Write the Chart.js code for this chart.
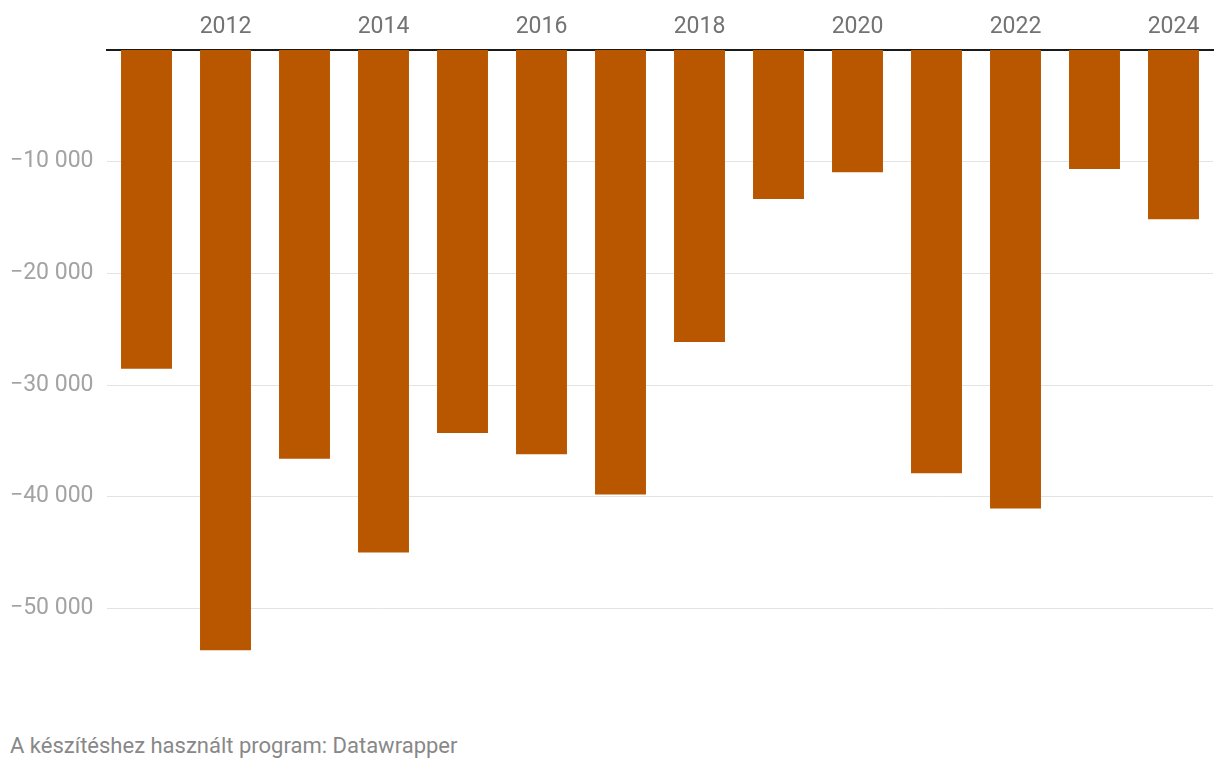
<!DOCTYPE html>
<html>
<head>
<meta charset="utf-8">
<script src="https://cdn.jsdelivr.net/npm/chart.js@4"></script>
<style>
  html, body { margin: 0; padding: 0; background: #fff; }
  #wrap { position: relative; width: 1220px; height: 770px; }
  #footer {
    position: absolute; left: 10px; top: 733px;
    font-family: Roboto, sans-serif; font-size: 22px; color: #888;
  }
</style>
</head>
<body>
<div id="wrap">
  <canvas id="myChart" width="1220" height="678"></canvas>
  <div id="footer">A készítéshez használt program: Datawrapper</div>
</div>
<script>
// years along the top axis
var years = ['2011', '2012', '2013', '2014', '2015', '2016', '2017',
             '2018', '2019', '2020', '2021', '2022', '2023', '2024'];
// values
var values = [-28550, -53750, -36600, -45000, -34300, -36200, -39800,
              -26150, -13350, -10950, -37900, -41050, -10650, -15150];
var yTicks = [-10000, -20000, -30000, -40000, -50000];

function fmt(v) {
    var s = Math.abs(v).toString().replace(/\B(?=(\d{3})+(?!\d))/g, ' ');
    return (v < 0 ? '\u2212' : '') + s;
}

var ctx = document.getElementById('myChart');
var myChart = new Chart(ctx, {
    type: 'bar',
    data: {
        labels: years,
        datasets: [{
            data: values,
            backgroundColor: '#b95700',
            borderWidth: 0,
            barPercentage: 0.645,
            categoryPercentage: 1.0
        }]
    },
    options: {
        responsive: false,
        animation: false,
        layout: { padding: { left: 10, right: 7, top: 0, bottom: 0 } },
        plugins: {
            legend: { display: false },
            tooltip: { enabled: false }
        },
        scales: {
            x: {
                position: 'top',
                grid: { display: false, drawTicks: false },
                border: { display: true, color: '#1a1a1a', width: 2 },
                ticks: {
                    autoSkip: false,
                    maxRotation: 0,
                    padding: 9,
                    color: '#737373',
                    font: { family: 'Roboto', size: 23 },
                    callback: function(val, i) {
                        return i % 2 === 1 ? years[i] : '';
                    }
                },
                afterFit: function(scale) { scale.height = 50; }
            },
            y: {
                min: -55000,
                max: 0,
                grid: { color: '#e3e3e3', lineWidth: 1, drawTicks: false },
                border: { display: false },
                afterBuildTicks: function(axis) {
                    axis.ticks = yTicks.map(function(v) { return { value: v }; });
                },
                ticks: {
                    crossAlign: 'far',
                    padding: 0,
                    color: '#a3a3a3',
                    font: { family: 'Roboto', size: 23 },
                    callback: function(v) { return fmt(v); }
                },
                afterFit: function(scale) { scale.width = 97; }
            }
        }
    }
});
</script>
</body>
</html>
